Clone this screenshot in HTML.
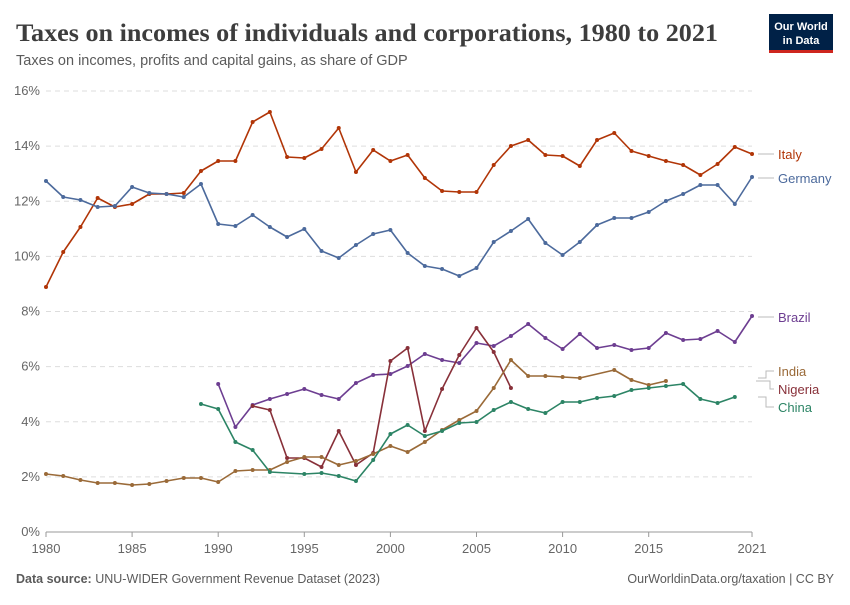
<!DOCTYPE html>
<html><head><meta charset="utf-8"><style>
body{margin:0;background:#fff;font-family:"Liberation Sans",sans-serif;}
svg text{font-family:"Liberation Sans",sans-serif;}
</style></head><body>
<svg id="s" width="850" height="600" xmlns="http://www.w3.org/2000/svg">
<text x="16" y="41" font-size="25" font-weight="bold" fill="#3d3d3d" style="font-family:'Liberation Serif',serif" textLength="702" lengthAdjust="spacingAndGlyphs">Taxes on incomes of individuals and corporations, 1980 to 2021</text>
<text x="16" y="65" font-size="14.5" fill="#5b5b5b">Taxes on incomes, profits and capital gains, as share of GDP</text>
<rect x="769" y="14" width="64" height="36" fill="#002147"/>
<rect x="769" y="50" width="64" height="3" fill="#ce261e"/>
<text x="801" y="30" font-size="11" font-weight="bold" fill="#fff" text-anchor="middle">Our World</text>
<text x="801" y="44" font-size="11" font-weight="bold" fill="#fff" text-anchor="middle">in Data</text>
<g id="grid"></g>
<g id="series"></g>
<text x="16" y="583" font-size="12.5" fill="#5b5b5b"><tspan font-weight="bold">Data source:</tspan> UNU-WIDER Government Revenue Dataset (2023)</text>
<text x="834" y="583" font-size="12.5" fill="#5b5b5b" text-anchor="end">OurWorldinData.org/taxation | CC BY</text>
</svg>
<script>
const NS="http://www.w3.org/2000/svg",g=document.getElementById('grid'),sg=document.getElementById('series');
function el(t,a,p,txt){const e=document.createElementNS(NS,t);for(const k in a)e.setAttribute(k,a[k]);if(txt)e.textContent=txt;p.appendChild(e);return e;}
const X=y=>46+17.22*(y-1980);
for(let i=0;i<=8;i++){const y=532-i*55.125;
 if(i>0)el('line',{x1:46,x2:752,y1:y,y2:y,stroke:'#ddd','stroke-dasharray':'5,4'},g);
 el('text',{x:40,y:y+4,'font-size':13,fill:'#666','text-anchor':'end'},g,(i*2)+'%');}
el('line',{x1:46,x2:752,y1:532,y2:532,stroke:'#999'},g);
[1980,1985,1990,1995,2000,2005,2010,2015,2021].forEach(y=>{el('line',{x1:X(y),x2:X(y),y1:532,y2:537,stroke:'#999'},g);
 el('text',{x:X(y),y:553,'font-size':13,fill:'#666','text-anchor':'middle'},g,String(y));});
const S=[
['Italy','#b13507',1980,[287,252,227,198,207,204,194,194,193,171,161,161,122,112,157,158,149,128,172,150,161,155,178,191,192,192,165,146,140,155,156,166,140,133,151,156,161,165,175,164,147,154],154,154],
['Germany','#4c6a9c',1980,[181,197,200,207,206,187,193,194,197,184,224,226,215,227,237,229,251,258,245,234,230,253,266,269,276,268,242,231,219,243,255,242,225,218,218,212,201,194,185,185,204,177],178,178],
['Brazil','#6d3e91',1990,[384,427,405,399,394,389,395,399,383,375,374,366,354,360,363,343,346,336,324,338,349,334,348,345,350,348,333,340,339,331,342,316],317,317],
['Nigeria','#883039',1992,[406,410,458,458,467,431,465,453,361,348,431,389,355,328,352,388],381,389],
['India','#9a6a38',1980,[474,476,480,483,483,485,484,481,478,478,482,471,470,470,462,457,457,465,461,454,446,452,442,430,420,411,388,360,376,376,377,378,null,370,380,385,381],378,371],
['China','#2c8465',1989,[404,409,442,450,472,null,474,473,476,481,460,434,425,436,431,423,422,410,402,409,413,402,402,398,396,390,388,386,384,399,403,397],397,407]];
S.forEach(([n,c,y0,d,ly,ty])=>{const pts=[];d.forEach((v,i)=>{if(v!=null)pts.push([X(y0+i),v]);});
 el('polyline',{points:pts.map(p=>p.join(',')).join(' '),fill:'none',stroke:c,'stroke-width':1.6,'stroke-linejoin':'round'},sg);
 pts.forEach(p=>el('circle',{cx:p[0],cy:p[1],r:2,fill:c},sg));
 if(n==='Nigeria'){el('polyline',{points:`756,${ly} 770,${ly} 770,${ty} 774,${ty}`,fill:'none',stroke:'#bbb'},sg);}
 else el('polyline',{points:`758,${ly} 766,${ly} 766,${ty} 774,${ty}`,fill:'none',stroke:'#bbb'},sg);
 el('text',{x:778,y:ty+5,'font-size':13,fill:c},sg,n);});
</script>
</body></html>
